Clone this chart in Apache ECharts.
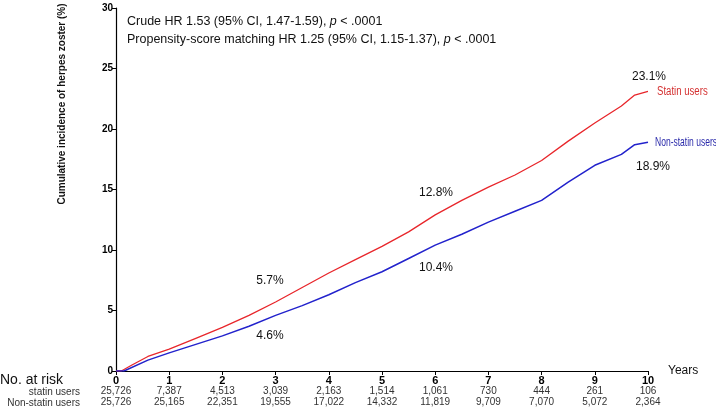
<!DOCTYPE html>
<html><head><meta charset="utf-8">
<script src="https://cdn.jsdelivr.net/npm/echarts@6/dist/echarts.min.js"></script>
<style>html,body{margin:0;padding:0;background:#fff}#c{width:716px;height:408px}</style>
</head><body><div id="c"></div>
<script>
var years = [0,1,2,3,4,5,6,7,8,9,10];
var statinRisk = ['25,726','7,387','4,513','3,039','2,163','1,514','1,061','730','444','261','106'];
var nonStatinRisk = ['25,726','25,165','22,351','19,555','17,022','14,332','11,819','9,709','7,070','5,072','2,364'];

var statinX = [0,0.1,0.3,0.6,1,1.5,2,2.5,3,3.5,4,4.5,5,5.5,6,6.5,7,7.5,8,8.5,9,9.5,9.75,10];
var statinY = [0,0,0.5,1.2,1.8,2.7,3.6,4.6,5.7,6.9,8.1,9.2,10.3,11.5,12.9,14.1,15.2,16.2,17.4,19.0,20.5,21.9,22.8,23.1];
var nonStatinX = [0,0.15,0.6,1,1.5,2,2.5,3,3.5,4,4.5,5,5.5,6,6.5,7,7.5,8,8.5,9,9.5,9.75,10];
var nonStatinY = [0,0,0.9,1.5,2.2,2.9,3.7,4.6,5.4,6.3,7.3,8.2,9.3,10.4,11.3,12.3,13.2,14.1,15.6,17.0,17.9,18.7,18.9];

function pairs(xs, ys){ return xs.map(function(x,i){return [x, ys[i]];}); }

var chart = echarts.init(document.getElementById('c'));
var font = 'Liberation Sans, Arial, sans-serif';
function riskAxis(arr, offset){
  return {type:'value', min:0, max:10, interval:1, position:'bottom', offset:offset, gridIndex:0,
    axisLine:{show:false}, axisTick:{show:false}, splitLine:{show:false},
    axisLabel:{fontFamily:font, fontSize:10, color:'#333', margin:0,
      formatter:function(v){ return arr[Math.round(v)]; }}};
}
function pct(x, y, t){
  return {type:'text', x:x, y:y, style:{text:t, fontFamily:font, fontSize:12, fill:'#111', align:'center', verticalAlign:'middle'}};
}
chart.setOption({
  animation:false,
  grid:{left:116, right:68, top:8, bottom:37},
  xAxis:[
    {type:'value', min:0, max:10, interval:1, name:'Years', nameLocation:'end', nameGap:20,
     nameTextStyle:{fontFamily:font, fontSize:12, color:'#111', verticalAlign:'middle'},
     axisLine:{lineStyle:{color:'#000', width:1.2}}, axisTick:{lineStyle:{color:'#000'}, length:4},
     splitLine:{show:false},
     axisLabel:{fontFamily:font, fontSize:11, fontWeight:'bold', color:'#000', margin:4}},
    riskAxis(statinRisk, 15),
    riskAxis(nonStatinRisk, 26)
  ],
  yAxis:{type:'value', min:0, max:30, interval:5,
    axisLine:{show:true, lineStyle:{color:'#000', width:1.2}}, axisTick:{show:true, lineStyle:{color:'#000'}, length:4},
    splitLine:{show:false},
    axisLabel:{fontFamily:font, fontSize:10, fontWeight:'bold', color:'#000', margin:3}},
  series:[
    {name:'Statin users', type:'line', data:pairs(statinX, statinY), showSymbol:false, symbol:'none',
     lineStyle:{color:'#e8262b', width:1.3}},
    {name:'Non-statin users', type:'line', data:pairs(nonStatinX, nonStatinY), showSymbol:false, symbol:'none',
     lineStyle:{color:'#2222cc', width:1.5}}
  ],
  graphic:[
    {type:'text', left:127, top:13, style:{
      text:'Crude HR 1.53 (95% CI, 1.47-1.59), {i|p} < .0001\nPropensity-score matching HR 1.25 (95% CI, 1.15-1.37), {i|p} < .0001',
      fontFamily:font, fontSize:12.5, fill:'#111', lineHeight:18,
      rich:{i:{fontStyle:'italic', fontFamily:font, fontSize:12.5, fill:'#111'}}}},
    {type:'text', x:62, y:104, rotation:Math.PI/2, style:{text:'Cumulative incidence of herpes zoster (%)',
      fontFamily:font, fontSize:10, fontWeight:'bold', fill:'#111', align:'center', verticalAlign:'middle'}},
    {type:'text', x:0, y:380, style:{text:'No. at risk', fontFamily:font, fontSize:14, fill:'#111', verticalAlign:'middle'}},
    {type:'text', x:80, y:392, style:{text:'statin users', fontFamily:font, fontSize:10, fill:'#333', align:'right', verticalAlign:'middle'}},
    {type:'text', x:80, y:403, style:{text:'Non-statin users', fontFamily:font, fontSize:10, fill:'#333', align:'right', verticalAlign:'middle'}},
    {type:'text', x:657, y:92, scaleX:0.8, scaleY:1, style:{text:'Statin users', fontFamily:font, fontSize:12, fill:'#d43030', verticalAlign:'middle'}},
    {type:'text', x:655, y:143, scaleX:0.71, scaleY:1, style:{text:'Non-statin users', fontFamily:font, fontSize:12, fill:'#2a2aaa', verticalAlign:'middle'}},
    pct(270, 281, '5.7%'),
    pct(270, 336, '4.6%'),
    pct(436, 193, '12.8%'),
    pct(436, 268, '10.4%'),
    pct(649, 77, '23.1%'),
    pct(653, 167, '18.9%')
  ]
});
</script></body></html>
